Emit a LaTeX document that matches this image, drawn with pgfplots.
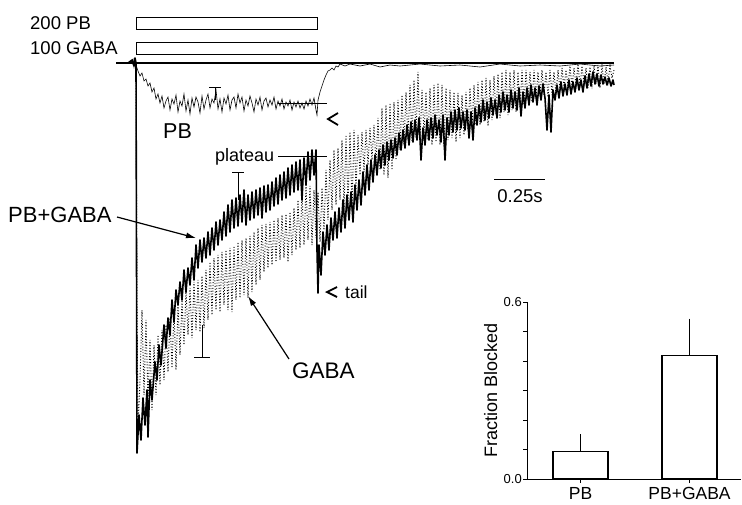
\documentclass[border=0pt]{standalone}
\usepackage{fontspec}
\setmainfont{Liberation Sans}
\usepackage{pgfplots}
\pgfplotsset{compat=1.18}
\usetikzlibrary{arrows.meta}
\newcommand{\fs}[1]{\fontsize{#1}{#1}\selectfont}
\begin{document}
\begin{tikzpicture}
\begin{axis}[at={(0,0)}, anchor=south west, scale only axis, width=742pt, height=504pt,
  xmin=0, xmax=742, ymin=0, ymax=504, y dir=reverse, hide axis, clip=false]
% stimulus bars
\draw[line width=0.7pt] (axis cs:136,17) rectangle (axis cs:317,29);
\draw[line width=0.7pt] (axis cs:136,42) rectangle (axis cs:317,54);
\node[anchor=base west, inner sep=0] at (axis cs:30,29) {\fs{18.5}200 PB};
\node[anchor=base west, inner sep=0] at (axis cs:30,54) {\fs{18.5}100 GABA};
% GABA trace (dotted)
\addplot[black, dash pattern=on 1pt off 1.8pt, line width=0.9pt] coordinates {
(136,63)(137,300)(138,430)(140,380)(142,310)(144,395)(146,320)(148,400)(150,340)(152,410)(154,345)(156,395)(158,335)(160,385)(162,330)(164,380)(166,325)(168,372)(170,318)(172,368)(174,310)(176,370)(178,305)(180,355)(182,300)(184,345)(186,290)(188,335)(190,288)(192,338)(194,282)(196,330)(198,280)(200,332)(202,276)(204,328)(206,270)(208,320)(210,262)(212,315)(214,258)(216,310)(218,255)(220,312)(222,252)(224,305)(226,250)(228,310)(230,248)(232,312)(234,246)(236,300)(238,242)(240,298)(242,240)(244,295)(246,238)(248,298)(250,236)(252,292)(254,232)(256,285)(258,228)(260,280)(262,225)(264,272)(266,224)(268,268)(270,222)(272,265)(274,220)(276,262)(278,218)(280,260)(282,215)(284,258)(286,214)(288,262)(290,212)(292,255)(294,208)(296,250)(298,200)(300,248)(302,192)(304,245)(306,185)(308,240)(310,186)(312,245)(314,190)(316,238)(318,192)(320,242)(322,188)(324,230)(326,170)(328,220)(330,160)(332,210)(334,150)(336,205)(338,148)(340,200)(342,140)(344,210)(346,135)(348,205)(350,132)(352,210)(354,130)(356,190)(358,135)(360,175)(362,132)(364,172)(366,130)(368,165)(370,128)(372,160)(374,125)(376,165)(378,118)(380,170)(382,108)(384,175)(386,105)(388,178)(390,103)(392,170)(394,102)(396,160)(398,100)(400,150)(402,95)(404,145)(406,92)(408,140)(410,85)(412,142)(414,80)(416,138)(418,72)(420,140)(422,90)(424,135)(426,92)(428,140)(430,88)(432,145)(434,85)(436,142)(438,83)(440,145)(442,85)(444,147)(446,88)(448,140)(450,90)(452,138)(454,92)(456,142)(458,93)(460,138)(462,95)(464,135)(466,92)(468,130)(470,88)(472,128)(474,85)(476,125)(478,82)(480,125)(482,80)(484,122)(486,78)(488,126)(490,80)(492,120)(494,76)(496,115)(498,74)(500,118)(502,72)(504,112)(506,70)(508,115)(510,72)(512,110)(514,70)(516,112)(518,72)(520,108)(522,70)(524,105)(526,70)(528,100)(530,72)(532,102)(534,70)(536,98)(538,72)(540,96)(542,70)(544,95)(546,72)(548,97)(550,70)(552,95)(554,72)(556,94)(558,70)(560,90)(562,68)(564,88)(566,70)(568,86)(570,66)(572,87)(574,68)(576,85)(578,64)(580,86)(582,66)(584,84)(586,68)(588,88)(590,67)(592,85)(594,66)(596,84)(598,65)(600,88)(602,66)(604,84)(606,67)(608,82)(610,66)(612,78)(614,70)
};
% baseline
\addplot[black, line width=1.3pt] coordinates {(116,63)(614,63)};
% PB trace
\addplot[black, line width=0.6pt] coordinates {
(130,63)(133,59)(134,67)(135,61)(136,65)(138,71)(140,76)(142,73)(144,81)(146,79)(148,86)(150,83)(152,92)(154,88)(156,99)(158,94)(160,103)(162,96)(164,108)(166,101)(168,97)(170,110)(172,99)(174,104)(176,95)(178,112)(180,101)(182,106)(184,94)(186,111)(188,100)(190,114)(192,98)(194,107)(196,97)(198,102)(200,113)(202,96)(204,109)(206,100)(208,94)(210,108)(212,99)(214,103)(216,90)(218,109)(220,99)(222,112)(224,98)(226,104)(228,95)(230,110)(232,100)(234,97)(236,108)(238,94)(240,103)(242,97)(244,111)(246,100)(248,106)(250,96)(252,103)(254,112)(256,99)(258,105)(260,97)(262,110)(264,101)(266,98)(268,107)(270,100)(272,105)(274,97)(276,109)(278,101)(280,106)(282,99)(284,109)(286,102)(288,106)(290,100)(292,110)(294,102)(296,107)(298,101)(300,108)(302,103)(304,109)(306,101)(308,106)(310,99)(312,105)(314,98)(316,110)(317,115)(318,100)(320,92)(322,86)(324,80)(326,75)(328,71)(330,70)(332,68)(334,70)(336,66)(338,67)(340,64)(345,66)(350,64)(360,66)(370,64)(380,67)(390,65)(400,66)(420,64)(440,66)(460,65)(480,67)(500,64)(520,66)(540,65)(560,66)(580,64)(600,66)(614,65)
};
% PB+GABA trace
\addplot[black, line width=1.6pt, line join=round] coordinates {
(128,63)(132,60)(134,66)(135,58)(136,63)(137,453)(139,415)(141,440)(143,398)(145,425)(147,390)(148,437)(150,380)(152,400)(155,362)(157,380)(159,345)(161,365)(164,325)(166,348)(168,318)(170,335)(172,300)(174,322)(176,290)(178,305)(180,282)(182,300)(184,270)(186,292)(188,268)(190,285)(192,258)(194,280)(196,245)(198,268)(200,240)(202,262)(204,238)(206,258)(208,232)(210,255)(212,228)(214,250)(216,222)(218,245)(220,220)(222,240)(224,212)(226,236)(228,205)(230,232)(232,200)(234,228)(236,198)(238,226)(240,195)(242,222)(244,190)(246,225)(248,195)(250,220)(252,192)(254,218)(256,190)(258,215)(260,188)(262,218)(264,186)(266,212)(268,185)(270,210)(272,182)(274,206)(276,178)(278,204)(280,175)(282,200)(284,172)(286,198)(288,168)(290,195)(292,165)(294,192)(296,162)(298,190)(300,160)(302,200)(304,158)(306,185)(308,152)(310,180)(312,150)(314,175)(316,150)(317,250)(318,293)(319,245)(321,275)(323,232)(325,255)(327,225)(329,250)(331,218)(333,240)(335,212)(337,238)(339,208)(341,232)(343,200)(345,228)(347,195)(349,220)(351,192)(353,222)(355,185)(357,210)(359,180)(361,205)(363,172)(365,195)(367,165)(369,190)(371,160)(373,182)(375,155)(377,175)(379,150)(381,168)(383,145)(385,165)(387,142)(389,160)(391,140)(393,158)(395,138)(397,155)(399,133)(401,150)(403,130)(405,148)(407,125)(409,145)(411,122)(413,142)(415,120)(417,140)(419,118)(421,160)(423,128)(425,145)(427,120)(429,140)(431,118)(433,138)(435,115)(437,135)(439,120)(441,142)(443,115)(445,160)(447,118)(449,135)(451,112)(453,132)(455,110)(457,130)(459,108)(461,128)(463,112)(465,130)(467,110)(469,138)(471,112)(473,140)(475,108)(477,125)(479,105)(481,122)(483,100)(485,120)(487,102)(489,118)(491,98)(493,115)(495,100)(497,118)(499,95)(501,112)(503,92)(505,110)(507,95)(509,112)(511,90)(513,108)(515,92)(517,110)(519,88)(521,116)(523,92)(525,108)(527,88)(529,105)(531,85)(533,102)(535,88)(537,105)(539,86)(541,100)(543,84)(545,98)(547,130)(549,95)(551,132)(553,90)(555,100)(557,85)(559,98)(561,82)(563,96)(565,84)(567,95)(569,80)(571,94)(573,82)(575,92)(577,78)(579,90)(581,80)(583,92)(585,76)(587,88)(589,74)(591,86)(593,72)(595,84)(597,74)(599,86)(601,75)(603,84)(605,77)(607,85)(609,78)(611,86)(613,80)(614,85)
};
% annotations
\draw[line width=0.8pt] (axis cs:209,87) -- (axis cs:221,87) (axis cs:215,87) -- (axis cs:215,100);
\draw[line width=1pt] (axis cs:278,103) -- (axis cs:327,103);
\draw[line width=1.8pt] (axis cs:338,113) -- (axis cs:328,119) -- (axis cs:338,125);
\node[anchor=base west, inner sep=0] at (axis cs:163,138) {\fs{21.5}PB};
\node[anchor=base west, inner sep=0] at (axis cs:215,161) {\fs{18}plateau};
\draw[line width=1pt] (axis cs:278,156) -- (axis cs:327,156);
\draw[line width=1pt] (axis cs:232,172) -- (axis cs:244,172) (axis cs:238,172) -- (axis cs:238,200);
\draw[line width=1.8pt] (axis cs:337,287) -- (axis cs:327,292) -- (axis cs:337,297);
\node[anchor=base west, inner sep=0] at (axis cs:345,298) {\fs{17.5}tail};
\draw[line width=1pt] (axis cs:202,325) -- (axis cs:202,357) (axis cs:194,357) -- (axis cs:210,357);
\node[anchor=base west, inner sep=0] at (axis cs:8,222) {\fs{22}PB+GABA};
\draw[line width=1.2pt, -{Latex[length=10pt,width=6pt]}] (axis cs:117,217) -- (axis cs:196,238);
\node[anchor=base west, inner sep=0] at (axis cs:292,378) {\fs{22.5}GABA};
\draw[line width=1.2pt, -{Latex[length=10pt,width=6pt]}] (axis cs:289,359) -- (axis cs:248,296);
\draw[line width=1pt] (axis cs:494,179) -- (axis cs:545,179);
\node[anchor=base, inner sep=0] at (axis cs:520,202) {\fs{18.5}0.25s};
\coordinate (ins) at (axis cs:527,479);
\end{axis}
\begin{axis}[at={(ins)}, anchor=south west, scale only axis, width=214pt, height=177pt,
  xmin=-0.491, xmax=1.472, ymin=0, ymax=0.6,
  axis lines*=left, axis line style={line width=1pt},
  xtick={0,1}, xticklabels={PB, PB+GABA},
  ytick={0,0.6}, yticklabels={0.0,0.6}, minor ytick={0.1,0.2,0.3,0.4,0.5},
  tick align=outside, major tick length=4pt, minor tick length=4pt,
  tick style={black, line width=0.9pt},
  xticklabel style={font=\fs{17.5}, inner sep=1pt, yshift=-3pt},
  yticklabel style={font=\fs{13}, inner sep=1pt},
  ylabel={Fraction Blocked}, ylabel style={font=\fs{18}, yshift=2pt},
  ybar, bar width=55pt]
\addplot[fill=white, draw=black, line width=1.1pt,
  error bars/.cd, y dir=plus, y explicit,
  error bar style={line width=1.1pt},
  error mark options={mark size=6.5pt, line width=1.1pt}]
  coordinates {(0,0.092) +- (0,0.037) (1,0.42) +- (0,0.102)};
\end{axis}
\pgfresetboundingbox
\useasboundingbox (0,0) rectangle (742pt,504pt);
\end{tikzpicture}
\end{document}
